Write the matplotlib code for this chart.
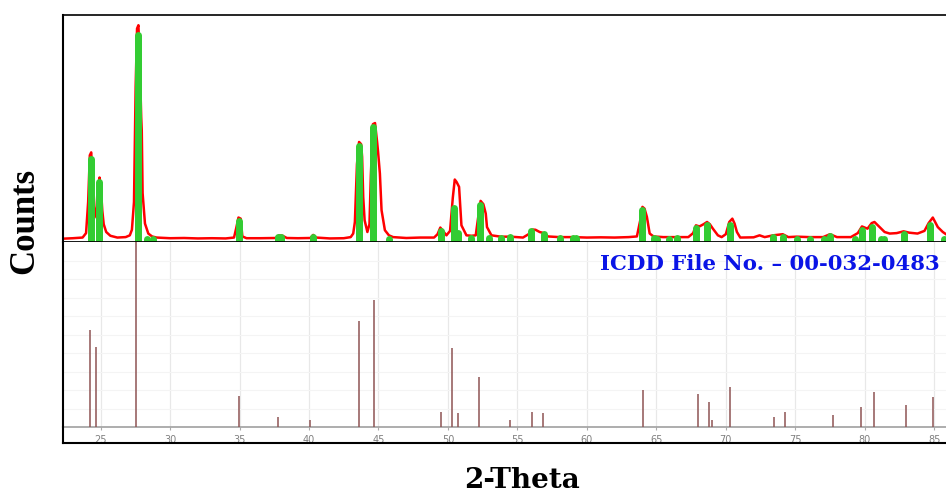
import matplotlib
matplotlib.use("Agg")
import matplotlib.pyplot as plt
from matplotlib.lines import Line2D

# ---------------- data ----------------
# measured pattern (2-theta, counts) traced from the picture
red_tt = [22.30, 23.00, 23.70, 23.95, 24.10, 24.22, 24.32, 24.42, 24.55, 24.70,
          24.82, 24.92, 25.02, 25.12, 25.22, 25.40, 25.70, 26.20, 26.80, 27.10,
          27.25, 27.40, 27.52, 27.62, 27.72, 27.82, 27.92, 27.96, 28.02, 28.19,
          28.43, 28.70, 29.03, 30.0, 31.0, 32.0, 33.0, 34.0, 34.60, 34.75,
          34.92, 35.08, 35.20, 35.5, 36.5, 37.6, 37.85, 38.1, 38.4, 39.2,
          40.1, 40.3, 40.5, 41.5, 42.5, 43.0, 43.18, 43.30, 43.45, 43.60,
          43.75, 43.82, 43.90, 44.00, 44.20, 44.35, 44.45, 44.60, 44.75, 44.90,
          44.97, 45.10, 45.22, 45.46, 45.75, 46.05, 47.0, 48.0, 49.0, 49.25,
          49.45, 49.70, 49.89, 50.15, 50.35, 50.49, 50.62, 50.80, 50.97, 51.33,
          51.70, 52.00, 52.15, 52.35, 52.55, 52.72, 52.81, 53.13, 53.8, 54.5,
          55.4, 55.8, 56.1, 56.3, 56.6, 56.9, 57.2, 58.0, 59.0, 60.0,
          61.0, 62.0, 63.0, 63.6, 63.85, 64.00, 64.15, 64.32, 64.52, 64.8,
          65.5, 66.5, 67.3, 67.65, 67.85, 68.1, 68.4, 68.65, 68.85, 69.07,
          69.43, 69.7, 70.0, 70.25, 70.47, 70.63, 70.80, 71.04, 72.0, 72.43,
          72.8, 73.4, 74.1, 74.5, 75.1, 76.0, 77.0, 77.5, 78.0, 79.0,
          79.5, 79.8, 80.2, 80.5, 80.7, 81.07, 81.43, 81.8, 82.3, 82.8,
          83.2, 83.8, 84.3, 84.6, 84.9, 85.26, 85.62, 85.85]
red_counts = [15, 17, 20, 40, 180, 390, 403, 300, 160, 110,
              200, 290, 240, 140, 80, 45, 28, 20, 22, 30,
              55, 180, 700, 960, 975, 800, 560, 500, 220, 83,
              38, 25, 20, 17, 18, 16, 17, 16, 20, 60,
              110, 105, 25, 17, 17, 18, 30, 28, 18, 17,
              18, 32, 20, 16, 17, 22, 38, 90, 350, 450,
              440, 383, 202, 98, 45, 80, 300, 530, 535, 450,
              405, 308, 143, 53, 30, 22, 18, 20, 20, 35,
              65, 45, 30, 50, 200, 281, 270, 248, 75, 30,
              28, 30, 100, 185, 170, 128, 67, 30, 24, 24,
              20, 35, 56, 55, 45, 40, 25, 22, 22, 20,
              21, 20, 22, 25, 100, 158, 150, 113, 38, 25,
              22, 22, 22, 40, 75, 70, 80, 90, 80, 60,
              30, 22, 35, 90, 105, 83, 45, 20, 21, 30,
              22, 30, 35, 22, 24, 22, 22, 35, 22, 22,
              40, 70, 60, 85, 90, 67, 45, 38, 40, 48,
              42, 38, 50, 85, 110, 67, 45, 35]

# identified peaks (green markers): position and height in counts
peak_tt = [24.30, 24.90, 27.66, 28.35, 28.80, 34.95, 37.80, 38.00, 40.30, 43.58,
           44.64, 45.77, 49.49, 50.42, 50.73, 51.69, 52.34, 52.96, 53.85, 54.45,
           55.96, 56.89, 58.09, 59.00, 59.25, 63.99, 64.85, 65.05, 65.90, 66.48,
           67.88, 68.67, 70.27, 73.39, 74.11, 75.14, 76.03, 77.04, 77.52, 79.27,
           79.80, 80.55, 81.20, 81.40, 82.81, 84.70, 85.70]
peak_counts = [387, 287, 945, 28, 30, 110, 38, 36, 40, 447,
               533, 30, 67, 170, 56, 34, 183, 34, 34, 36,
               63, 53, 34, 34, 34, 158, 34, 30, 30, 34,
               78, 90, 90, 40, 40, 30, 28, 30, 44, 28,
               71, 83, 30, 30, 50, 90, 28]

# ICDD 00-032-0483 reference lines (relative intensity, %)
ref_tt = [24.23, 24.68, 27.56, 34.95, 37.80, 40.10, 43.58, 44.68, 49.53, 50.32,
          50.73, 52.24, 54.45, 56.08, 56.87, 64.04, 67.99, 68.76, 69.00, 70.27,
          73.50, 74.23, 77.75, 79.75, 80.65, 82.98, 84.90]
ref_int = [52.4, 43.2, 100, 16.8, 5.4, 3.8, 57.3, 68.6, 8.1, 42.7,
           7.6, 27.0, 3.8, 8.1, 7.6, 20.0, 17.8, 13.5, 4.0, 21.6,
           5.4, 8.1, 6.5, 10.8, 18.9, 11.9, 16.2]

tick_vals = [25, 30, 35, 40, 45, 50, 55, 60, 65, 70, 75, 80, 85]
tick_labels = ["25", "30", "35", "40", "45", "50", "55", "60", "65", "70", "75", "80", "85"]

ylabel_text = "Counts"
xlabel_text = "2-Theta"
card_text = "ICDD File No. \u2013 00-032-0483"

# ---------------- figure ----------------
W, H = 946, 493
fig = plt.figure(figsize=(W / 100, H / 100), dpi=100)
fig.patch.set_facecolor("white")

def fx(px):
    return px / W

def fy(py):
    return (H - py) / H

xmin, xmax = 22.29, 85.85
left = fx(63)
ax1 = fig.add_axes([left, fy(242), 1.0 - left, fy(15) - fy(242)])
ax2 = fig.add_axes([left, fy(427), 1.0 - left, fy(242) - fy(427)])

# top panel
ax1.plot(red_tt, red_counts, color="#ff0000", lw=1.8, zorder=2, solid_joinstyle="round")
green_lw_px = 7.0
cap = green_lw_px / 2 * 4.5  # round cap radius in count units
vl = ax1.vlines(peak_tt, -60, [max(c - cap, -20) for c in peak_counts],
                color="#33cc33", lw=green_lw_px * 0.72, zorder=3)
vl.set_capstyle("round")
ax1.set_xlim(xmin, xmax)
ax1.set_ylim(0, 1021)
ax1.set_xticks([])
ax1.set_yticks([])
ax1.spines["right"].set_visible(False)
ax1.spines["left"].set_linewidth(1.5)
ax1.spines["top"].set_linewidth(1.2)
ax1.spines["bottom"].set_linewidth(2.0)
ax1.spines["bottom"].set_zorder(5)

# bottom panel
ax2.set_xlim(xmin, xmax)
ax2.set_ylim(0, 100)
ax2.set_xticks(tick_vals)
ax2.set_xticklabels(tick_labels)
ax2.set_yticks([10, 20, 30, 40, 50, 60, 70, 80, 90])
ax2.tick_params(axis="y", length=0, labelleft=False)
ax2.tick_params(axis="x", length=2.5, width=0.8, color="#aaaaaa", labelcolor="#808080",
                labelsize=7, pad=3)
ax2.grid(True, axis="x", color="#e8e8e8", lw=0.9)
ax2.grid(True, axis="y", color="#f4f4f4", lw=0.8)
ax2.set_axisbelow(True)
ax2.vlines(ref_tt, 0, ref_int, color="#8e5454", lw=1.1, zorder=3)
ax2.spines["right"].set_visible(False)
ax2.spines["top"].set_visible(False)
ax2.spines["left"].set_linewidth(1.5)
ax2.spines["bottom"].set_color("#a0a0a0")
ax2.spines["bottom"].set_linewidth(1.2)

# frame lines below tick labels
fig.add_artist(Line2D([fx(63), 1.0], [fy(443), fy(443)], color="black", lw=1.5))
fig.add_artist(Line2D([fx(63), fx(63)], [fy(443), fy(427)], color="black", lw=1.5))

# texts
fig.text(fx(940), fy(264), card_text, ha="right", va="center", color="#0a14e6",
         fontsize=15.3, fontweight="bold", family="DejaVu Serif")
fig.text(fx(25), fy(221), ylabel_text, ha="center", va="center", rotation=90,
         fontsize=25, fontweight="bold", family="Liberation Serif")
fig.text(fx(522), fy(480), xlabel_text, ha="center", va="center",
         fontsize=20, fontweight="bold", family="DejaVu Serif")

fig.savefig("out.png", dpi=100, facecolor="white")
